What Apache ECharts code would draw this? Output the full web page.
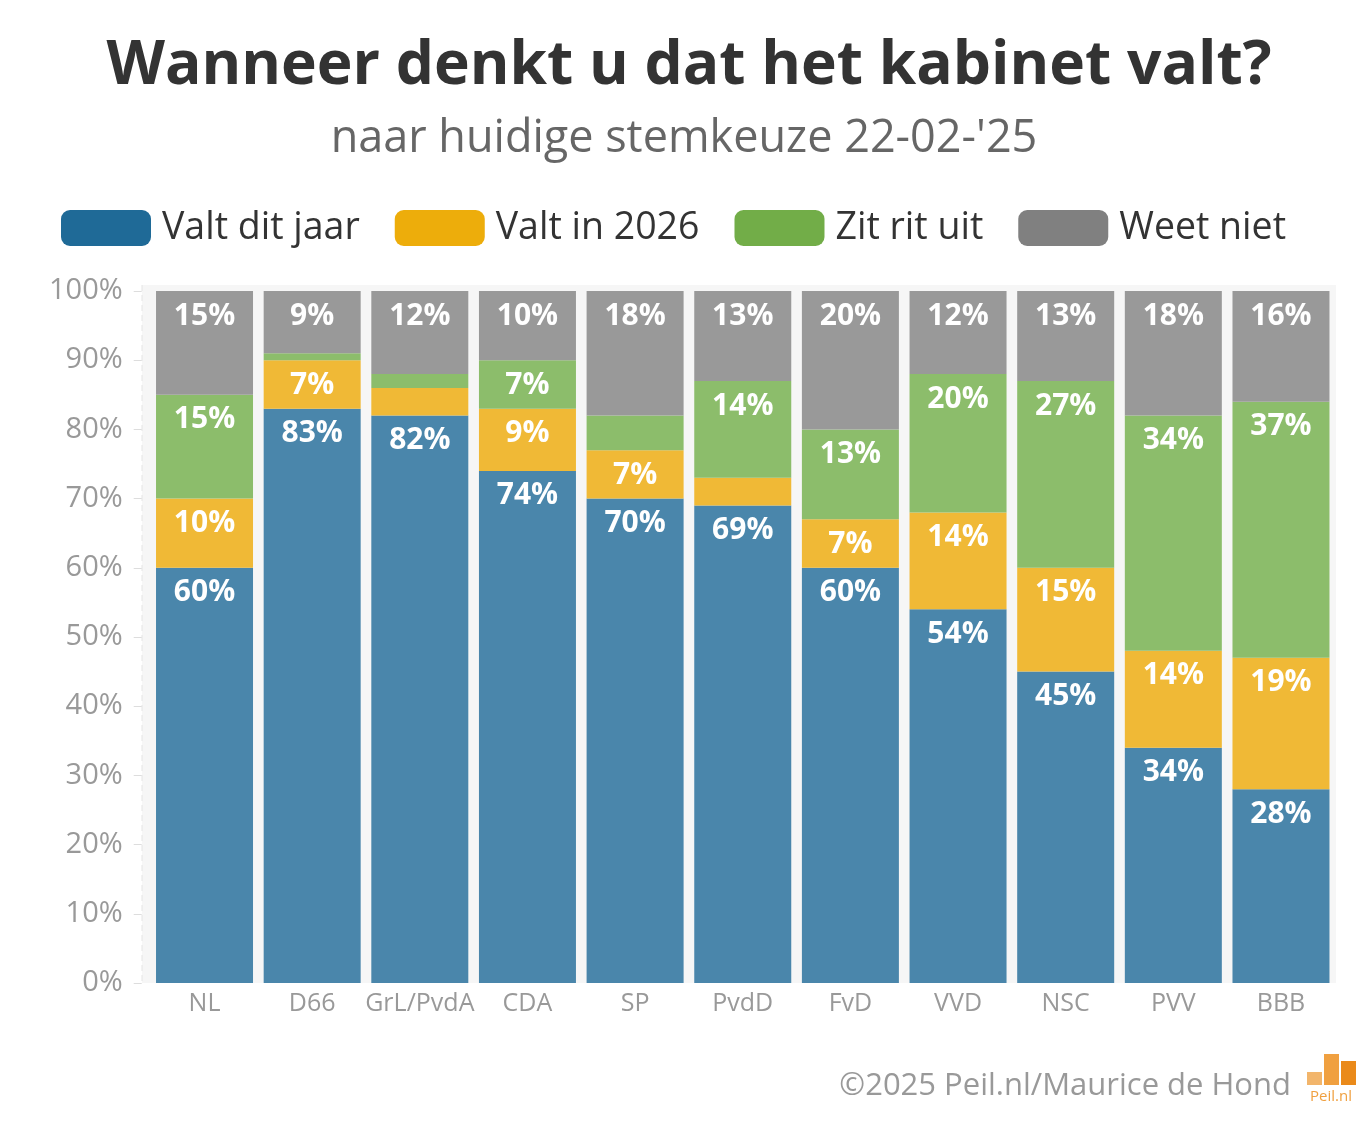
<!DOCTYPE html>
<html><head><meta charset="utf-8">
<script src="https://cdn.jsdelivr.net/npm/echarts@6/dist/echarts.min.js"></script>
<style>html,body{margin:0;padding:0;background:#fff}#c{width:1368px;height:1125px}</style>
</head><body><div id="c"></div>
<script>
const categories = ['NL','D66','GrL/PvdA','CDA','SP','PvdD','FvD','VVD','NSC','PVV','BBB'];
const valtDitJaar = [60,83,82,74,70,69,60,54,45,34,28];
const valtIn2026 = [10,7,4,9,7,4,7,14,15,14,19];
const zitRitUit = [15,1,2,7,5,14,13,20,27,34,37];
const weetNiet = [15,9,12,10,18,13,20,12,13,18,16];
const seriesNames = ['Valt dit jaar','Valt in 2026','Zit rit uit','Weet niet'];
const yTicks = [0,10,20,30,40,50,60,70,80,90,100];

const barColors = ['#4a86ab','#f0b936','#8cbd6b','#999999'];
const legendColors = ['#1f6a97','#edad0b','#72ad48','#808080'];
const FONT = 'Open Sans';
const chart = echarts.init(document.getElementById('c'), null, {renderer:'canvas'});
const allData = [valtDitJaar, valtIn2026, zitRitUit, weetNiet];

chart.setOption({
  backgroundColor:'#ffffff',
  animation:false,
  textStyle:{fontFamily:FONT},
  title:[
    {text:'Wanneer denkt u dat het kabinet valt?', left:684, textAlign:'center', top:31,
     textStyle:{fontFamily:FONT, fontWeight:'bold', fontSize:60.5, color:'#333333'}},
    {text:"naar huidige stemkeuze 22-02-'25", left:'center', top:112,
     textStyle:{fontFamily:FONT, fontWeight:'normal', fontSize:45, color:'#666666'}},
    {text:'©2025 Peil.nl/Maurice de Hond', right:72, top:1066,
     textStyle:{fontFamily:FONT, fontWeight:'normal', fontSize:31, color:'#999999'}}
  ],
  legend:{
    top:204, left:56, itemWidth:90, itemHeight:36, itemGap:35,
    icon:'roundRect',
    textStyle:{fontFamily:FONT, fontSize:37.5, color:'#333333', padding:[0,0,0,6]},
    data: seriesNames.map((n,i)=>({name:n, itemStyle:{color:legendColors[i]}}))
  },
  grid:{left:150.7, right:33.2, top:291, bottom:142, containLabel:false},
  xAxis:{
    type:'category', data:categories,
    axisLine:{show:false}, axisTick:{show:false},
    axisLabel:{color:'#999999', fontSize:25, margin:8, fontFamily:FONT, interval:0},
    splitLine:{show:false}
  },
  yAxis:{
    type:'value', min:0, max:100, interval:10, offset:9,
    axisLine:{show:false},
    axisTick:{show:true, length:8, lineStyle:{color:'#dddddd'}},
    axisLabel:{color:'#999999', fontSize:29, margin:19, fontFamily:FONT,
      formatter:v=>yTicks.includes(v)?v+'%':''},
    splitLine:{show:false}
  },
  graphic:[
    {type:'rect', shape:{x:142,y:285,width:1194,height:698}, style:{fill:'#f6f6f6'}, z:-10, silent:true},
    {type:'line', shape:{x1:142,y1:285,x2:142,y2:983}, style:{stroke:'#e4e4e4', lineWidth:1, lineDash:[6,4]}, z:-9, silent:true},
    {type:'rect', shape:{x:1307,y:1072,width:15,height:13}, style:{fill:'#f2b56b'}},
    {type:'rect', shape:{x:1324,y:1054,width:15,height:31}, style:{fill:'#f0a040'}},
    {type:'rect', shape:{x:1341,y:1061,width:15,height:24}, style:{fill:'#ea8a1a'}},
    {type:'text', style:{text:'Peil.nl', x:1331, y:1097, fill:'#f0a040', fontSize:15, fontFamily:FONT, textAlign:'center', textVerticalAlign:'middle'}}
  ],
  series: seriesNames.map((n,i)=>({
    name:n, type:'bar', stack:'total', data:allData[i], barWidth:97,
    itemStyle:{color:barColors[i]},
    label:{show:true, position:'insideTop', distance:10, color:'#ffffff',
      fontFamily:FONT, fontWeight:'bold', fontSize:30,
      formatter:p=>p.value>=7?p.value+'%':''}
  }))
});
</script></body></html>
